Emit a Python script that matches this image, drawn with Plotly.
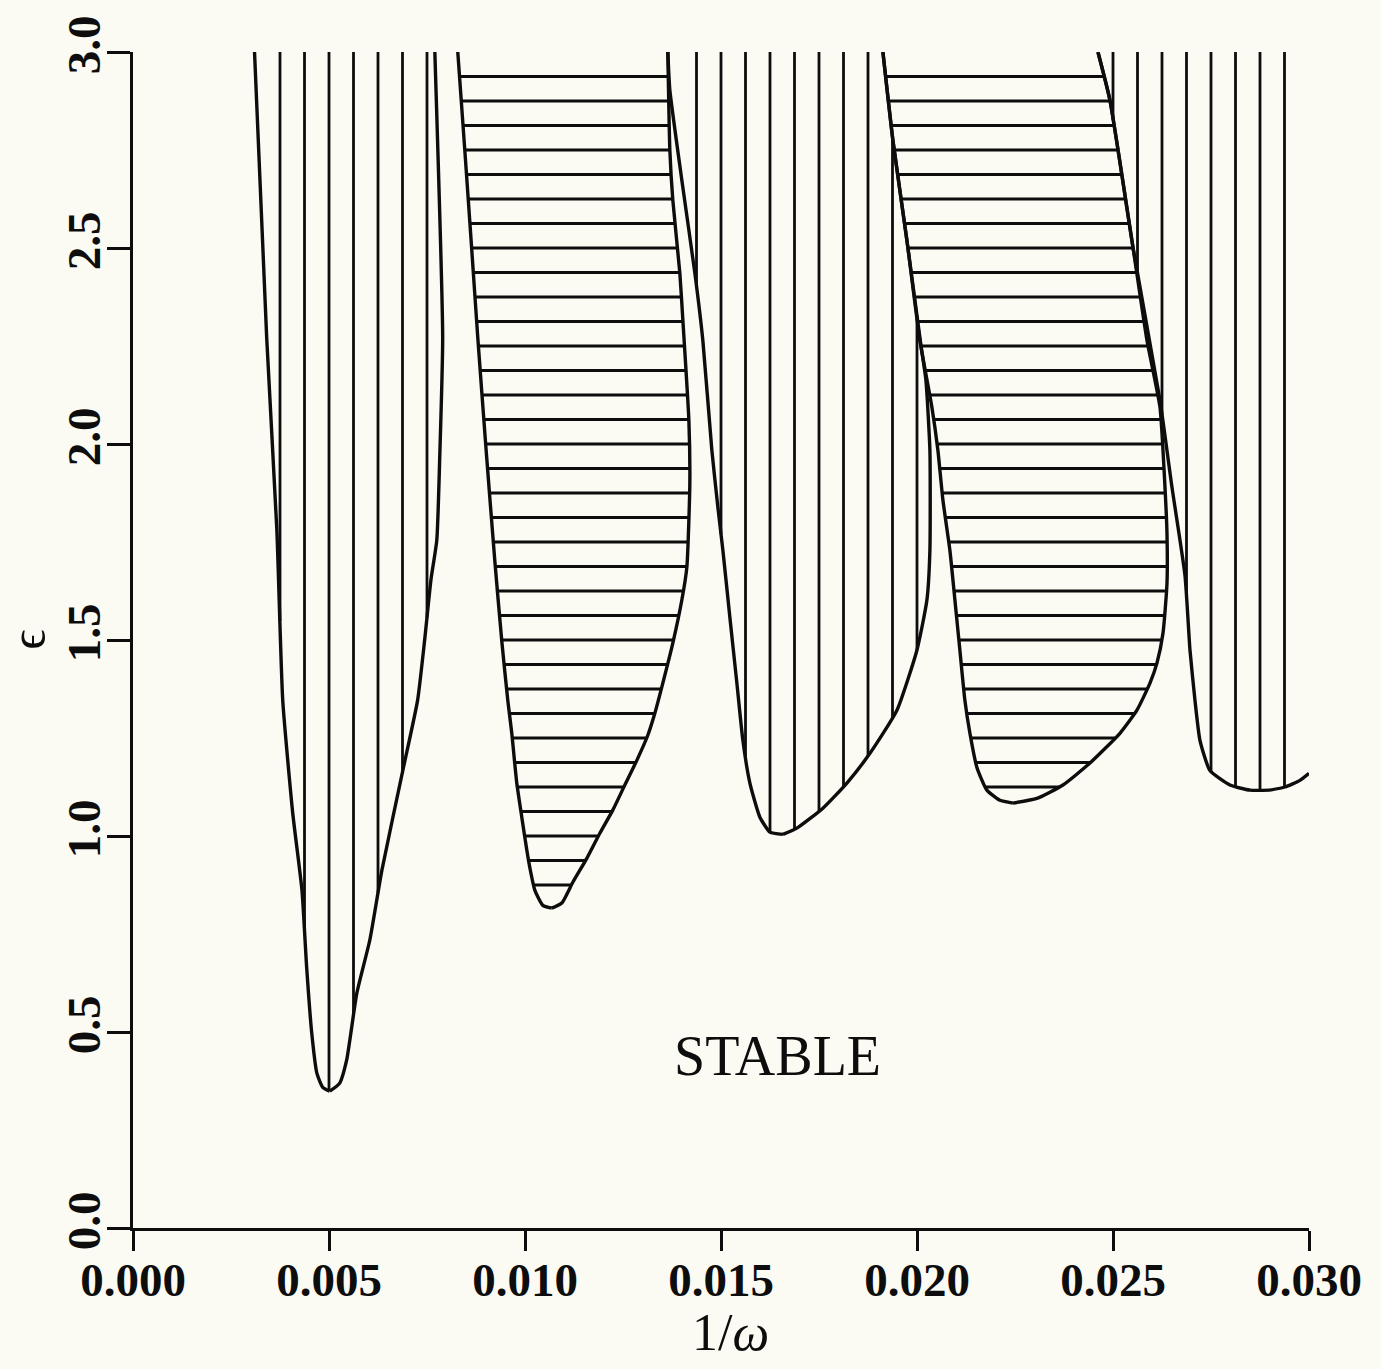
import plotly.graph_objects as go

# ---------------- data (x = 1/omega, eps) ----------------
# Lobe 1 (vertically hatched)
L1_left_x = [0.00310, 0.00341, 0.00367, 0.00382, 0.004075, 0.00431, 0.00443, 0.00456, 0.00469, 0.00484, 0.00502]
L1_left_e = [3.0, 2.272, 1.780, 1.346, 1.058, 0.862, 0.665, 0.497, 0.395, 0.359, 0.349]
L1_right_x = [0.00502, 0.00527, 0.00545, 0.00571, 0.00604, 0.00635, 0.00690, 0.00726, 0.00744, 0.00760, 0.00775, 0.00783, 0.00790, 0.00770]
L1_right_e = [0.349, 0.369, 0.428, 0.599, 0.734, 0.913, 1.175, 1.346, 1.500, 1.653, 1.755, 1.984, 2.272, 3.0]

# Lobe 2 (horizontally hatched)
L2_left_x = [0.008285, 0.008464, 0.008642, 0.008795, 0.009000, 0.009229, 0.009408, 0.009561, 0.009663, 0.009790, 0.009918, 0.010046, 0.010122, 0.010250, 0.010454, 0.010684]
L2_left_e = [3.0, 2.750, 2.495, 2.272, 1.995, 1.703, 1.497, 1.346, 1.262, 1.135, 1.048, 0.964, 0.920, 0.862, 0.823, 0.816]
L2_right_x = [0.010684, 0.010939, 0.011220, 0.011577, 0.011909, 0.012240, 0.012547, 0.012853, 0.013133, 0.013312, 0.013516, 0.013771, 0.014001, 0.014129, 0.014205, 0.014180, 0.014027, 0.013950, 0.013771, 0.013695, 0.013644]
L2_right_e = [0.816, 0.829, 0.882, 0.943, 1.007, 1.066, 1.130, 1.193, 1.257, 1.313, 1.390, 1.492, 1.602, 1.686, 1.900, 2.061, 2.316, 2.436, 2.622, 2.750, 3.0]

# Lobe 3 (vertically hatched)
L3_left_x = [0.013644, 0.013695, 0.014001, 0.014333, 0.014537, 0.014767, 0.014920, 0.015048, 0.015226, 0.015405, 0.015558, 0.015737, 0.015992, 0.016247, 0.016579]
L3_left_e = [3.0, 2.903, 2.673, 2.436, 2.264, 1.984, 1.839, 1.729, 1.558, 1.390, 1.244, 1.135, 1.048, 1.010, 1.004]
L3_right_x = [0.016579, 0.016936, 0.017600, 0.018212, 0.018799, 0.019488, 0.019998, 0.020253, 0.020329, 0.020329, 0.020227, 0.020100, 0.019742, 0.019385, 0.019130]
L3_right_e = [1.004, 1.020, 1.071, 1.135, 1.211, 1.321, 1.474, 1.602, 1.729, 1.984, 2.163, 2.252, 2.520, 2.775, 3.0]

# Lobe 4 (horizontally hatched)
L4_left_x = [0.019130, 0.019385, 0.019742, 0.020074, 0.020380, 0.020533, 0.020661, 0.020839, 0.020967, 0.021094, 0.021222, 0.021350, 0.021528, 0.021783, 0.022115, 0.022447]
L4_left_e = [3.0, 2.775, 2.520, 2.264, 2.094, 1.984, 1.857, 1.729, 1.602, 1.474, 1.346, 1.262, 1.175, 1.117, 1.091, 1.084]
L4_right_x = [0.022447, 0.023059, 0.023723, 0.024412, 0.025177, 0.025611, 0.025943, 0.026121, 0.026275, 0.026377, 0.026377, 0.026326, 0.026198, 0.025867, 0.025509, 0.024922, 0.024616]
L4_right_e = [1.084, 1.096, 1.130, 1.186, 1.262, 1.321, 1.390, 1.441, 1.517, 1.644, 1.772, 1.890, 2.094, 2.264, 2.502, 2.877, 3.0]

# Lobe 5 (vertically hatched)
L5_left_x = [0.024616, 0.024922, 0.025509, 0.026198, 0.026504, 0.026836, 0.026964, 0.027091, 0.027218, 0.027473, 0.027984, 0.028494, 0.029005]
L5_left_e = [3.0, 2.877, 2.502, 2.112, 1.890, 1.665, 1.474, 1.346, 1.244, 1.167, 1.130, 1.117, 1.117]
L5_right_x = [0.029005, 0.029388, 0.029770, 0.030000]
L5_right_e = [1.117, 1.125, 1.142, 1.160]

# Hatch positions
V1_x = [0.00375, 0.004375, 0.005, 0.005625, 0.00625, 0.006875, 0.0075]
V3_x = [0.014375, 0.015, 0.015625, 0.01625, 0.016875, 0.0175, 0.018125, 0.01875, 0.019375, 0.02]
V5_x = [0.025, 0.025625, 0.02625, 0.026875, 0.0275, 0.028125, 0.02875, 0.029375]
H2_e = [0.875, 0.9375, 1.0, 1.0625, 1.125, 1.1875, 1.25, 1.3125, 1.375, 1.4375, 1.5, 1.5625,
        1.625, 1.6875, 1.75, 1.8125, 1.875, 1.9375, 2.0, 2.0625, 2.125, 2.1875, 2.25, 2.3125,
        2.375, 2.4375, 2.5, 2.5625, 2.625, 2.6875, 2.75, 2.8125, 2.875, 2.9375]
H4_e = [1.125, 1.1875, 1.25, 1.3125, 1.375, 1.4375, 1.5, 1.5625,
        1.625, 1.6875, 1.75, 1.8125, 1.875, 1.9375, 2.0, 2.0625, 2.125, 2.1875, 2.25, 2.3125,
        2.375, 2.4375, 2.5, 2.5625, 2.625, 2.6875, 2.75, 2.8125, 2.875, 2.9375]

x_ticks = [0.0, 0.005, 0.010, 0.015, 0.020, 0.025, 0.030]
x_tick_text = ["0.000", "0.005", "0.010", "0.015", "0.020", "0.025", "0.030"]
y_ticks = [0.0, 0.5, 1.0, 1.5, 2.0, 2.5, 3.0]
y_tick_text = ["0.0", "0.5", "1.0", "1.5", "2.0", "2.5", "3.0"]

X_MAX, E_MAX = 0.030, 3.0
INK = "#0d0d0d"


def polygon(lx, le, rx, re, extra_right=False):
    px = list(lx) + list(rx[1:])
    pe = list(le) + list(re[1:])
    if extra_right:
        px += [X_MAX]
        pe += [E_MAX]
    px += [lx[0]]
    pe += [le[0]]
    return px, pe


def crossings(a_vals, b_vals, a0):
    out = []
    for i in range(len(a_vals) - 1):
        a1, a2 = a_vals[i], a_vals[i + 1]
        b1, b2 = b_vals[i], b_vals[i + 1]
        if (a1 <= a0 < a2) or (a2 <= a0 < a1):
            out.append(b1 + (a0 - a1) * (b2 - b1) / (a2 - a1))
    out.sort()
    return [(out[k], out[k + 1]) for k in range(0, len(out) - 1, 2)]


def add_segments(xs, ys, segs, fixed, vertical):
    for s0, s1 in segs:
        if vertical:
            xs += [fixed, fixed, None]
            ys += [s0, s1, None]
        else:
            xs += [s0, s1, None]
            ys += [fixed, fixed, None]


lobes = [
    (L1_left_x, L1_left_e, L1_right_x, L1_right_e, False),
    (L2_left_x, L2_left_e, L2_right_x, L2_right_e, False),
    (L3_left_x, L3_left_e, L3_right_x, L3_right_e, False),
    (L4_left_x, L4_left_e, L4_right_x, L4_right_e, False),
    (L5_left_x, L5_left_e, L5_right_x, L5_right_e, True),
]
polys = [polygon(*lb) for lb in lobes]

hx, hy = [], []
for (ppx, ppe), vx in [(polys[0], V1_x), (polys[2], V3_x), (polys[4], V5_x)]:
    for x0 in vx:
        add_segments(hx, hy, crossings(ppx, ppe, x0), x0, True)
for (ppx, ppe), he in [(polys[1], H2_e), (polys[3], H4_e)]:
    for e0 in he:
        add_segments(hx, hy, crossings(ppe, ppx, e0), e0, False)

fig = go.Figure()
fig.add_trace(go.Scatter(x=hx, y=hy, mode="lines", line=dict(color=INK, width=2.8),
                         hoverinfo="skip", showlegend=False))
for lx, le, rx, re, _ in lobes:
    fig.add_trace(go.Scatter(x=lx, y=le, mode="lines",
                             line=dict(color=INK, width=3.4, shape="spline", smoothing=0.5),
                             showlegend=False))
    fig.add_trace(go.Scatter(x=rx, y=re, mode="lines",
                             line=dict(color=INK, width=3.4, shape="spline", smoothing=0.5),
                             showlegend=False))

bg = "#fbfbf3"
tickfont = dict(family="Liberation Serif", size=47, color=INK, weight="bold")
fig.update_layout(
    width=1381, height=1369, autosize=False,
    margin=dict(l=133, r=72, t=52, b=141),
    paper_bgcolor=bg, plot_bgcolor=bg, showlegend=False,
    xaxis=dict(range=[0, X_MAX], tickmode="array", tickvals=x_ticks, ticktext=x_tick_text,
               ticks="outside", ticklen=20, tickwidth=3, tickcolor=INK,
               showline=True, linewidth=3.4, linecolor=INK, showgrid=False, zeroline=False,
               tickfont=tickfont, ticklabelstandoff=-12),
    yaxis=dict(range=[0, E_MAX], tickmode="array", tickvals=y_ticks, ticktext=y_tick_text,
               ticks="outside", ticklen=23, tickwidth=3, tickcolor=INK, tickangle=-90,
               showline=True, linewidth=3.4, linecolor=INK, showgrid=False, zeroline=False,
               tickfont=tickfont, ticklabelstandoff=-12),
    annotations=[
        dict(x=0.01645, y=0.44, xref="x", yref="y", text="STABLE", showarrow=False,
             xanchor="center", yanchor="middle",
             font=dict(family="Liberation Serif", size=56, color=INK)),
        dict(x=0.508, y=-0.089, xref="paper", yref="paper", text="1/<i>ω</i>", showarrow=False,
             xanchor="center", yanchor="middle",
             font=dict(family="Liberation Serif", size=52, color=INK)),
        dict(x=-0.0896, y=0.5, xref="paper", yref="paper", text="ϵ", showarrow=False, textangle=-90,
             xanchor="center", yanchor="middle",
             font=dict(family="Liberation Serif", size=50, color=INK)),
    ],
)

fig.write_html("out.html")
